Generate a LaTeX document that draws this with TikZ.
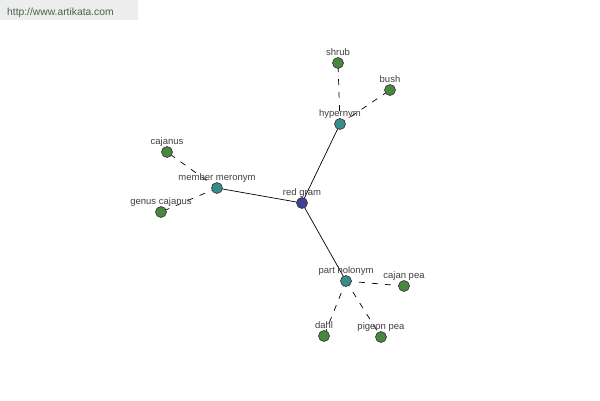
\documentclass[tikz,border=0pt]{standalone}
\usepackage{fontspec}
\setmainfont{Liberation Sans}
\definecolor{leafc}{RGB}{72,135,64}
\definecolor{midc}{RGB}{56,140,140}
\definecolor{rootc}{RGB}{64,64,150}
\definecolor{urlc}{RGB}{70,100,70}
\begin{document}
\begin{tikzpicture}[x=1pt,y=-1pt,
  dot/.style={circle,draw=black!80,line width=0.6pt,minimum size=11pt,inner sep=0pt},
  leaf/.style={dot,fill=leafc},
  mid/.style={dot,fill=midc},
  root/.style={dot,fill=rootc},
  lbl/.style={font=\fontsize{9.5}{11}\selectfont,text=black!75,inner sep=0pt,anchor=base},
  solidedge/.style={draw=black,line width=0.7pt},
  dashedge/.style={draw=black,line width=0.7pt,dash pattern=on 6pt off 7pt}]
\useasboundingbox (0,0) rectangle (600,400);
\fill[black!7] (0,0) rectangle (138,20);
\node[font=\fontsize{10.3}{12}\selectfont,text=urlc,anchor=base west,inner sep=0pt] (url) at (7,15) {http://www.artikata.com};
% nodes
\coordinate (rg) at (302,203);
\coordinate (hy) at (340,124);
\coordinate (sh) at (338,63);
\coordinate (bu) at (390,90);
\coordinate (mm) at (217,188);
\coordinate (ca) at (167,152);
\coordinate (gc) at (161,212);
\coordinate (ph) at (346,281);
\coordinate (cp) at (404,286);
\coordinate (da) at (324,336);
\coordinate (pp) at (381,337);
\draw[solidedge] (rg) -- (hy);
\draw[solidedge] (rg) -- (mm);
\draw[solidedge] (rg) -- (ph);
\draw[dashedge] (hy) -- (sh);
\draw[dashedge] (hy) -- (bu);
\draw[dashedge] (mm) -- (ca);
\draw[dashedge] (mm) -- (gc);
\draw[dashedge] (ph) -- (cp);
\draw[dashedge] (ph) -- (da);
\draw[dashedge] (ph) -- (pp);
\node[root] (nrg) at (rg) {};
\node[mid] (nhy) at (hy) {};
\node[mid] (nmm) at (mm) {};
\node[mid] (nph) at (ph) {};
\foreach \c in {sh,bu,ca,gc,cp,da,pp} \node[leaf] (n\c) at (\c) {};
\node[lbl] at ([yshift=8]rg) {red gram};
\node[lbl] at ([yshift=8]hy) {hypernym};
\node[lbl] at ([yshift=8]sh) {shrub};
\node[lbl] at ([yshift=8]bu) {bush};
\node[lbl] at ([yshift=8]mm) {member meronym};
\node[lbl] at ([yshift=8]ca) {cajanus};
\node[lbl] at ([yshift=8]gc) {genus cajanus};
\node[lbl] at ([yshift=8]ph) {part holonym};
\node[lbl] at ([yshift=8]cp) {cajan pea};
\node[lbl] at ([yshift=8]da) {dahl};
\node[lbl] at ([yshift=8]pp) {pigeon pea};
\end{tikzpicture}
\end{document}
